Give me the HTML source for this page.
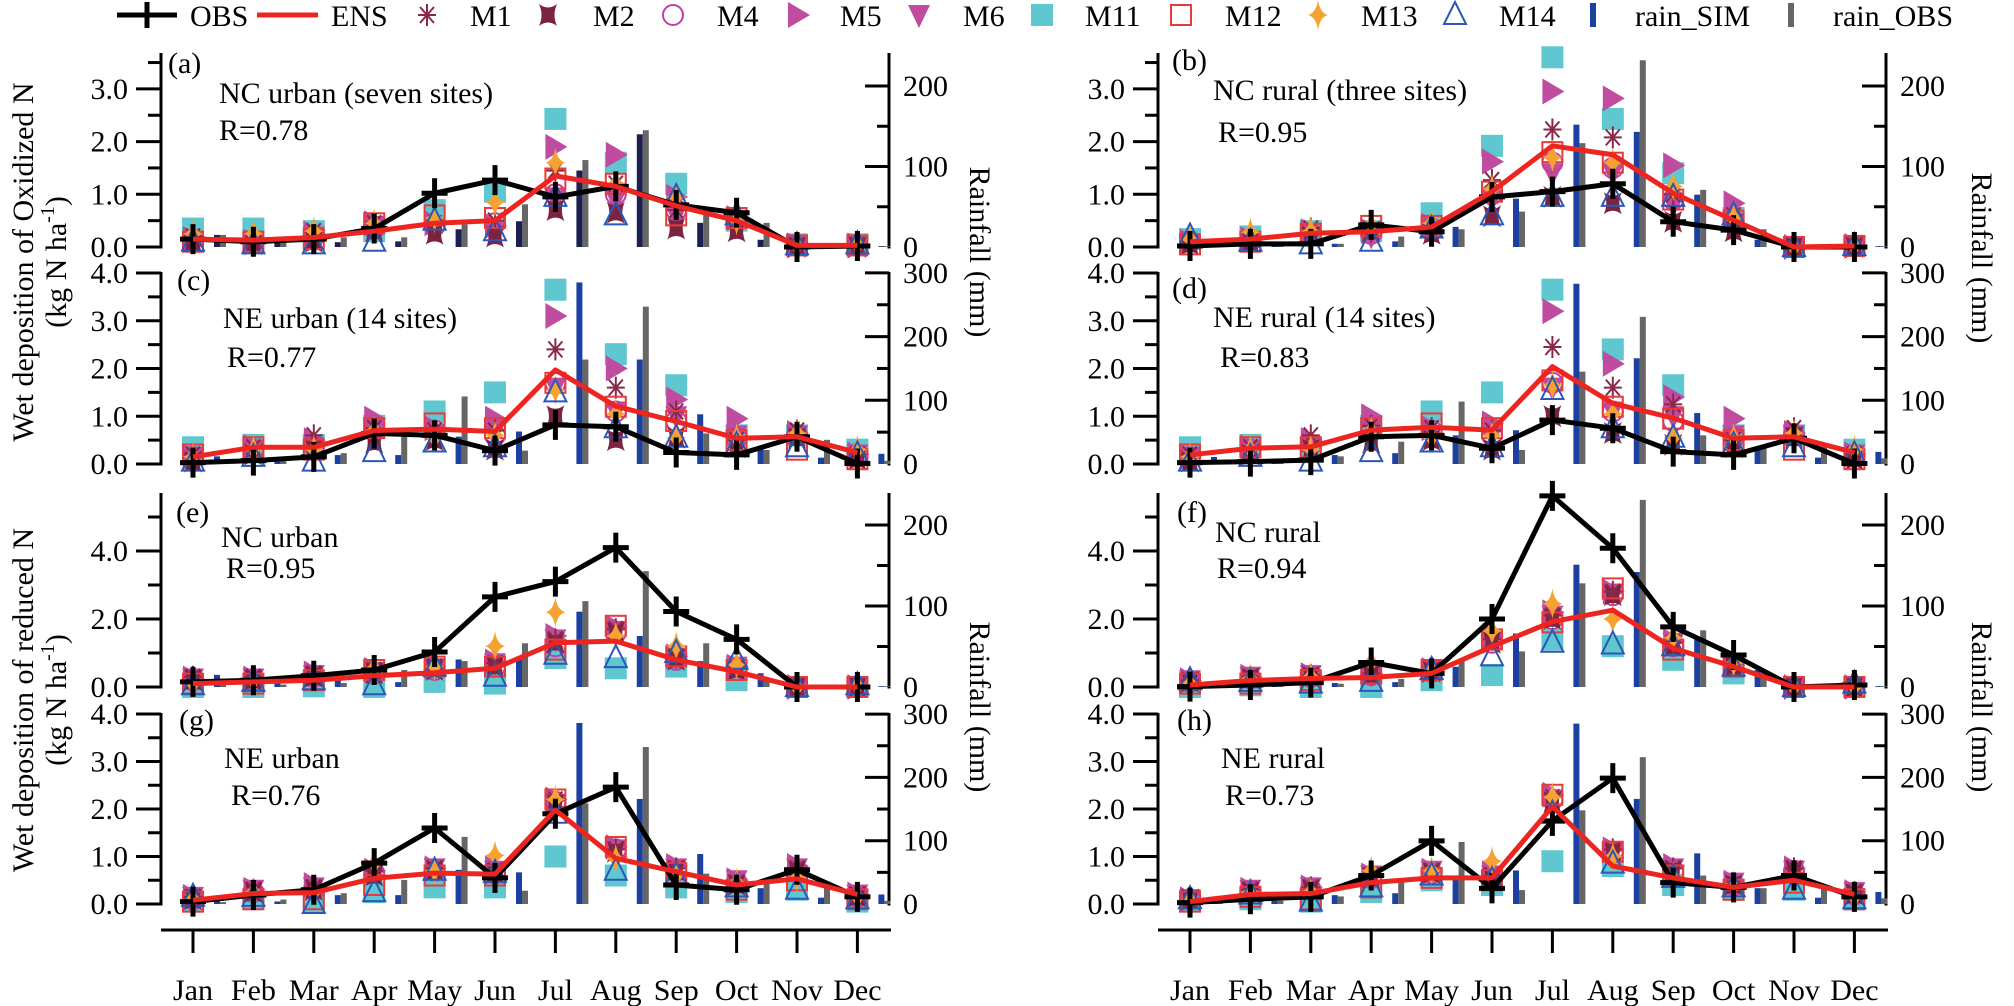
<!DOCTYPE html>
<html><head><meta charset="utf-8"><style>
html,body{margin:0;padding:0;background:#fff}
svg{display:block}
svg text{font-family:"Liberation Serif","DejaVu Serif","Times New Roman",Times,serif}
</style></head><body>
<svg id="chart" width="2014" height="1006" viewBox="0 0 2014 1006" xmlns="http://www.w3.org/2000/svg"></svg>
<script>
const months=['Jan','Feb','Mar','Apr','May','Jun','Jul','Aug','Sep','Oct','Nov','Dec'];
// ---- panel a: NC urban oxidized
const OBS_a=[.15,.1,.15,.35,1.02,1.27,.95,1.15,.8,.65,0,.02];
const ENS_a=[.15,.13,.18,.3,.45,.5,1.35,1.15,.78,.5,.03,.03];
const M1_a=[.2,.15,.3,.45,.45,.5,1.45,1.2,.7,.5,.03,.03];
const M2_a=[.1,.05,.1,.3,.25,.2,.7,.65,.35,.3,0,0];
const M4_a=[.15,.1,.2,.35,.4,.45,1.0,1.0,.7,.5,.03,.03];
const M5_a=[.15,.1,.25,.45,.45,.4,1.9,1.75,.95,.55,.03,.03];
const M6_a=[.1,.08,.2,.4,.35,.3,.9,.9,.6,.4,0,0];
const M11_a=[.35,.35,.3,.3,.7,1.05,2.43,1.6,1.2,.5,.05,.05];
const M12_a=[.1,.1,.15,.45,.6,.55,1.3,1.2,.6,.55,.03,.03];
const M13_a=[.25,.25,.3,.45,.55,.85,1.6,1.2,.95,.5,.03,.05];
const M14_a=[.1,.05,.05,.1,.5,.3,.95,.6,.95,.6,.03,.05];
const RS_a=[15,8,6,7,22,32,95,140,30,9,1,1];
const RO_a=[15,8,12,12,28,53,108,145,42,30,2,1];
// ---- panel b: NC rural oxidized
const OBS_b=[.02,.06,.06,.42,.29,.95,1.05,1.2,.48,.32,0,0];
const ENS_b=[.1,.15,.26,.29,.38,1.05,1.92,1.75,1.02,.51,0,.02];
const M1_b=[.1,.15,.35,.3,.3,1.27,2.23,2.08,1.0,.6,0,.02];
const M2_b=[.05,.1,.2,.3,.25,.58,.95,.83,.48,.3,0,0];
const M4_b=[.1,.12,.25,.25,.35,1.0,1.6,1.5,.9,.5,0,.02];
const M5_b=[.1,.15,.3,.3,.4,1.62,2.95,2.82,1.55,.83,0,.02];
const M6_b=[.05,.1,.2,.2,.3,.9,1.4,1.4,.8,.45,0,0];
const M11_b=[.15,.2,.3,.3,.64,1.92,3.6,2.43,1.4,.55,0,.02];
const M12_b=[.05,.1,.25,.4,.4,1.05,1.8,1.6,.9,.5,0,.02];
const M13_b=[.15,.28,.3,.42,.45,1.1,1.7,1.6,1.15,.55,0,.02];
const M14_b=[.2,.1,.05,.1,.35,.6,.95,.95,.95,.6,0,.02];
const RS_b=[0,2,4,7,25,60,152,143,65,9,1,1];
const RO_b=[0,2,4,13,22,44,129,232,71,22,1,1];
// ---- panel c: NE urban oxidized
const OBS_c=[.03,.07,.15,.64,.6,.28,.82,.78,.24,.19,.57,.01];
const ENS_c=[.15,.35,.35,.7,.73,.68,1.97,1.21,.89,.54,.57,.24];
const M1_c=[.2,.35,.6,.75,.7,.7,2.4,1.6,1.1,.5,.7,.2];
const M2_c=[.05,.2,.3,.45,.5,.3,1.0,.5,.55,.35,.55,.1];
const M4_c=[.15,.3,.4,.7,.7,.6,1.7,1.1,.9,.55,.6,.2];
const M5_c=[.15,.35,.5,.95,.75,.95,3.1,2.0,1.35,.95,.65,.2];
const M6_c=[.15,.3,.35,.75,.6,.7,1.6,1.1,1.0,.6,.6,.2];
const M11_c=[.35,.4,.4,.8,1.1,1.5,3.65,2.3,1.65,.6,.6,.3];
const M12_c=[.2,.35,.3,.75,.85,.75,1.7,1.2,.9,.5,.3,.1];
const M13_c=[.15,.3,.3,.7,.55,.6,1.55,1.05,.55,.55,.65,.3];
const M14_c=[.05,.15,.05,.25,.45,.35,1.5,.75,.55,.4,.35,.2];
const RS_c=[12,5,14,14,43,51,285,164,78,27,10,16];
const RO_c=[4,5,17,43,106,21,164,247,48,22,38,5];
// ---- panel d: NE rural oxidized
const OBS_d=[.03,.05,.08,.57,.6,.33,.92,.75,.26,.19,.54,.01];
const ENS_d=[.19,.33,.36,.71,.77,.71,2.04,1.27,.96,.54,.57,.24];
const M1_d=[.2,.35,.6,.8,.75,.7,2.45,1.6,1.25,.5,.75,.2];
const M2_d=[.05,.2,.3,.45,.5,.3,1.0,.65,.4,.35,.55,.1];
const M4_d=[.15,.3,.4,.7,.7,.6,1.7,1.1,.9,.55,.6,.2];
const M5_d=[.15,.35,.5,1.0,.75,.85,3.2,2.1,1.4,.95,.65,.2];
const M6_d=[.15,.3,.35,.75,.6,.6,1.6,1.1,1.0,.6,.6,.2];
const M11_d=[.35,.4,.35,.8,1.1,1.5,3.65,2.4,1.65,.6,.6,.3];
const M12_d=[.2,.35,.35,.75,.85,.75,1.75,1.2,.95,.5,.3,.1];
const M13_d=[.15,.3,.3,.7,.55,.6,1.65,1.05,.55,.55,.65,.3];
const M14_d=[.05,.15,.05,.25,.45,.35,1.55,.75,.55,.4,.35,.2];
const RS_d=[11,5,14,17,45,53,283,166,80,25,10,19];
const RO_d=[3,5,12,35,98,22,145,231,45,25,30,9];
// ---- panel e: NC urban reduced
const OBS_e=[.15,.2,.33,.5,1.03,2.65,3.1,4.1,2.22,1.4,0,0];
const ENS_e=[.1,.15,.2,.33,.42,.55,1.3,1.35,.8,.45,0,0];
const M1_e=[.3,.3,.4,.5,.6,.7,1.4,1.7,.9,.6,0,0];
const M2_e=[.2,.2,.3,.4,.5,.6,1.3,1.6,.8,.5,0,0];
const M4_e=[.2,.2,.3,.4,.5,.6,1.2,1.6,.8,.5,0,0];
const M5_e=[.25,.25,.4,.5,.6,.75,1.5,1.75,.9,.6,0,0];
const M6_e=[.25,.25,.35,.45,.55,.7,1.4,1.65,.85,.6,0,0];
const M11_e=[0,0,.02,0,.15,.1,.85,.55,.6,.2,0,0];
const M12_e=[.1,.1,.2,.5,.6,.6,1.1,1.8,.9,.5,0,0];
const M13_e=[.1,.2,.3,.55,.6,1.2,2.2,1.5,1.2,.65,0,.05];
const M14_e=[.05,.15,.2,.05,.6,.3,.95,.85,1.0,.8,0,.05];
const RS_e=[15,9,9,6,34,36,93,63,32,17,3,1];
const RO_e=[3,3,5,21,32,54,106,143,54,9,3,1];
// ---- panel f: NC rural reduced
const OBS_f=[.01,.06,.13,.72,.4,2.0,5.62,4.08,1.77,.94,0,.06];
const ENS_f=[.06,.19,.25,.28,.4,1.19,1.92,2.26,1.14,.6,0,0];
const M1_f=[.2,.3,.35,.4,.5,1.4,2.1,2.8,1.3,.7,0,0];
const M2_f=[.15,.25,.3,.35,.45,1.3,2.0,2.7,1.2,.6,0,0];
const M4_f=[.15,.25,.3,.35,.45,1.3,2.0,2.7,1.2,.6,0,0];
const M5_f=[.2,.3,.35,.4,.5,1.5,2.2,2.8,1.35,.7,0,0];
const M6_f=[.2,.3,.35,.35,.5,1.4,2.1,2.75,1.3,.65,0,0];
const M11_f=[0,.05,0,0,.2,.35,1.4,1.2,.8,.4,0,0];
const M12_f=[.1,.1,.2,.4,.5,1.4,1.9,2.9,1.1,.6,0,0];
const M13_f=[.1,.25,.3,.72,.5,1.65,2.45,2.0,1.45,.7,0,0];
const M14_f=[.2,.15,.1,.15,.5,.9,1.3,1.25,1.2,.6,0,.1];
const RS_f=[1,3,5,6,25,66,151,142,62,21,2,1];
const RO_f=[1,3,4,10,33,44,128,231,70,21,2,1];
// ---- panel g: NE urban reduced
const OBS_g=[.05,.19,.3,.86,1.6,.55,1.9,2.46,.4,.3,.72,.15];
const ENS_g=[.08,.22,.24,.54,.65,.63,1.98,.96,.68,.4,.53,.2];
const M1_g=[.15,.3,.35,.7,.75,.7,2.2,1.15,.75,.45,.75,.2];
const M2_g=[.1,.25,.3,.6,.7,.65,2.1,1.1,.7,.4,.7,.15];
const M4_g=[.1,.25,.3,.65,.7,.65,2.15,1.15,.7,.45,.7,.15];
const M5_g=[.15,.3,.4,.7,.75,.75,2.2,1.2,.8,.5,.8,.2];
const M6_g=[.15,.3,.35,.7,.75,.7,2.1,1.15,.75,.5,.75,.2];
const M11_g=[.05,.1,.05,.25,.35,.35,1.0,.6,.35,.25,.3,.05];
const M12_g=[.05,.1,.1,.4,.6,.6,2.2,1.2,.65,.3,.5,.1];
const M13_g=[.1,.25,.25,.85,.7,1.02,2.2,.95,.6,.45,.55,.15];
const M14_g=[.15,.15,0,.25,.7,.65,1.9,.7,.6,.35,.3,.1];
const RS_g=[5,4,14,14,54,50,286,166,79,25,10,15];
const RO_g=[3,7,17,38,106,21,159,248,48,35,35,5];
// ---- panel h: NE rural reduced
const OBS_h=[.03,.1,.15,.6,1.33,.33,1.75,2.65,.45,.35,.6,.15];
const ENS_h=[.05,.2,.22,.45,.55,.55,2.05,.8,.55,.35,.5,.2];
const M1_h=[.1,.3,.35,.6,.7,.6,2.25,1.15,.75,.4,.75,.25];
const M2_h=[.1,.25,.3,.55,.65,.55,2.15,1.1,.7,.4,.7,.2];
const M4_h=[.1,.25,.3,.55,.65,.6,2.2,1.1,.7,.4,.7,.2];
const M5_h=[.1,.3,.35,.6,.7,.65,2.3,1.15,.8,.45,.75,.25];
const M6_h=[.1,.3,.35,.6,.7,.6,2.2,1.1,.75,.45,.7,.25];
const M11_h=[.05,.1,.05,.25,.5,.4,.9,.8,.4,.3,.3,.1];
const M12_h=[.05,.15,.1,.35,.55,.5,2.3,1.1,.6,.3,.45,.1];
const M13_h=[.1,.25,.25,.7,.7,.9,2.25,1.0,.6,.4,.55,.15];
const M14_h=[.1,.2,.05,.35,.6,.5,1.9,.85,.55,.35,.3,.1];
const RS_h=[11,5,14,17,45,53,285,166,80,25,10,19];
const RO_h=[3,5,12,35,98,22,148,232,45,25,30,9];

const panelText={a:['NC urban (seven sites)','R=0.78'],b:['NC rural (three sites)','R=0.95'],c:['NE urban (14 sites)','R=0.77'],d:['NE rural (14 sites)','R=0.83'],e:['NC urban','R=0.95'],f:['NC rural','R=0.94'],g:['NE urban','R=0.76'],h:['NE rural','R=0.73']};
const leftTicksA=[0,1,2,3], leftTicksC=[0,1,2,3,4], leftTicksE=[0,2,4];
const rainTicksA=[0,100,200], rainTicksC=[0,100,200,300];

const NS='http://www.w3.org/2000/svg';
const FONT='"Liberation Serif", "DejaVu Serif", "Times New Roman", Times, serif';
const svg=document.getElementById('chart');
function el(tag,attrs,parent){const e=document.createElementNS(NS,tag);for(const k in attrs)e.setAttribute(k,attrs[k]);(parent||svg).appendChild(e);return e;}
function txt(s,attrs,parent){const t=el('text',attrs,parent);t.style.fontFamily=FONT;t.textContent=s;return t;}

const COL={m1:'#8a2848',m2:'#7a2440',m4:'#c040a0',m5:'#c04ca0',m6:'#c04ca0',m11:'#5fc7cf',m12:'#e83a3a',m13:'#f5a233',m14:'#2a58b8'};
function marker(kind,x,y,g){
  let m;
  if(kind==='m1'){m=el('path',{d:`M${x-9},${y}H${x+9}M${x},${y-11}V${y+11}M${x-7},${y-8}L${x+7},${y+8}M${x-7},${y+8}L${x+7},${y-8}`,stroke:COL.m1,'stroke-width':2,fill:'none'},g);}
  else if(kind==='m2'){m=el('path',{d:`M${x-9},${y-11}Q${x},${y-4} ${x+9},${y-11}Q${x+4},${y} ${x+9},${y+11}Q${x},${y+4} ${x-9},${y+11}Q${x-4},${y} ${x-9},${y-11}Z`,fill:COL.m2},g);}
  else if(kind==='m4'){m=el('circle',{cx:x,cy:y,r:10,fill:'none',stroke:COL.m4,'stroke-width':2},g);}
  else if(kind==='m5'){m=el('path',{d:`M${x-10},${y-13}L${x+12},${y}L${x-10},${y+13}Z`,fill:COL.m5},g);}
  else if(kind==='m6'){m=el('path',{d:`M${x-11},${y-10}L${x+11},${y-10}L${x},${y+13}Z`,fill:COL.m6},g);}
  else if(kind==='m11'){m=el('rect',{x:x-11,y:y-11,width:22,height:22,fill:COL.m11},g);}
  else if(kind==='m12'){m=el('rect',{x:x-10,y:y-10,width:20,height:20,fill:'none',stroke:COL.m12,'stroke-width':2},g);}
  else if(kind==='m13'){m=el('path',{d:`M${x},${y-15}Q${x+2},${y-2} ${x+10},${y}Q${x+2},${y+2} ${x},${y+15}Q${x-2},${y+2} ${x-10},${y}Q${x-2},${y-2} ${x},${y-15}Z`,fill:COL.m13},g);}
  else if(kind==='m14'){m=el('path',{d:`M${x},${y-13}L${x+11},${y+9}L${x-11},${y+9}Z`,fill:'none',stroke:COL.m14,'stroke-width':2},g);}
  return m;
}

const COLS=[{L:161,R:889,jan:193},{L:1158,R:1886,jan:1190}];
const ROWS=[{y0:247,top:53,unit:52.7,rpx:0.805,lt:leftTicksA,minor:0.5,rt:rainTicksA,lmax:3.68},
            {y0:464,top:272,unit:47.75,rpx:0.637,lt:leftTicksC,minor:0.5,rt:rainTicksC,lmax:4.02},
            {y0:687,top:493,unit:34,rpx:0.81,lt:leftTicksE,minor:1,rt:rainTicksA,lmax:5.7},
            {y0:904,top:713,unit:47.5,rpx:0.633,lt:leftTicksC,minor:0.5,rt:rainTicksC,lmax:4.02}];
const STEP=60.4;
const PANELS=[
 {id:'a',c:0,r:0,obs:OBS_a,ens:ENS_a,m:{m1:M1_a,m2:M2_a,m4:M4_a,m5:M5_a,m6:M6_a,m11:M11_a,m12:M12_a,m13:M13_a,m14:M14_a},rs:RS_a,ro:RO_a,simCol:'#1c2050'},
 {id:'b',c:1,r:0,obs:OBS_b,ens:ENS_b,m:{m1:M1_b,m2:M2_b,m4:M4_b,m5:M5_b,m6:M6_b,m11:M11_b,m12:M12_b,m13:M13_b,m14:M14_b},rs:RS_b,ro:RO_b,simCol:'#1c40a0'},
 {id:'c',c:0,r:1,obs:OBS_c,ens:ENS_c,m:{m1:M1_c,m2:M2_c,m4:M4_c,m5:M5_c,m6:M6_c,m11:M11_c,m12:M12_c,m13:M13_c,m14:M14_c},rs:RS_c,ro:RO_c,simCol:'#1c40a0'},
 {id:'d',c:1,r:1,obs:OBS_d,ens:ENS_d,m:{m1:M1_d,m2:M2_d,m4:M4_d,m5:M5_d,m6:M6_d,m11:M11_d,m12:M12_d,m13:M13_d,m14:M14_d},rs:RS_d,ro:RO_d,simCol:'#1c40a0'},
 {id:'e',c:0,r:2,obs:OBS_e,ens:ENS_e,m:{m1:M1_e,m2:M2_e,m4:M4_e,m5:M5_e,m6:M6_e,m11:M11_e,m12:M12_e,m13:M13_e,m14:M14_e},rs:RS_e,ro:RO_e,simCol:'#1c40a0'},
 {id:'f',c:1,r:2,obs:OBS_f,ens:ENS_f,m:{m1:M1_f,m2:M2_f,m4:M4_f,m5:M5_f,m6:M6_f,m11:M11_f,m12:M12_f,m13:M13_f,m14:M14_f},rs:RS_f,ro:RO_f,simCol:'#1c40a0'},
 {id:'g',c:0,r:3,obs:OBS_g,ens:ENS_g,m:{m1:M1_g,m2:M2_g,m4:M4_g,m5:M5_g,m6:M6_g,m11:M11_g,m12:M12_g,m13:M13_g,m14:M14_g},rs:RS_g,ro:RO_g,simCol:'#1c40a0'},
 {id:'h',c:1,r:3,obs:OBS_h,ens:ENS_h,m:{m1:M1_h,m2:M2_h,m4:M4_h,m5:M5_h,m6:M6_h,m11:M11_h,m12:M12_h,m13:M13_h,m14:M14_h},rs:RS_h,ro:RO_h,simCol:'#1c40a0'}];
const TXTPOS={a:[168,63,219,93,219,130],b:[1172,60,1213,90,1218,132],c:[177,280,223,318,227,357],d:[1172,288,1213,317,1220,357],
 e:[176,512,221,537,226,568],f:[1177,512,1215,532,1217,568],g:[179,720,224,758,231,795],h:[1177,720,1221,758,1225,795]};

PANELS.forEach(p=>{
  const C=COLS[p.c],Rw=ROWS[p.r];
  const g=el('g',{});
  
  
  const xm=i=>C.jan+i*STEP;
  const yv=v=>Rw.y0-v*Rw.unit;
  const yr=v=>Rw.y0-v*Rw.rpx;
  const la=el('line',{x1:C.L,y1:Rw.y0+1.5,x2:C.L,y2:Rw.top,stroke:'#000','stroke-width':3},g);
  
  const ra=el('line',{x1:C.R,y1:Rw.y0+1.5,x2:C.R,y2:Rw.top,stroke:'#000','stroke-width':3},g);
  
  for(let v=0;v<=Rw.lmax+1e-6;v+=Rw.minor){
    const major=Rw.lt.some(t=>Math.abs(t-v)<1e-6);
    el('line',{x1:C.L-(major?25:13),x2:C.L,y1:yv(v),y2:yv(v),stroke:'#000','stroke-width':3},g);
  }
  Rw.lt.forEach(t=>{const tl=txt(t.toFixed(1),{x:C.L-33,y:yv(t)+10,'font-size':30,'text-anchor':'end'},g);
    });
  const rmax=(Rw.y0-Rw.top)/Rw.rpx;
  for(let v=50;v<=rmax;v+=50){const major=v%100===0;
    el('line',{x1:C.R-(major?24:12),x2:C.R,y1:yr(v),y2:yr(v),stroke:'#000','stroke-width':3},g);}
  Rw.rt.forEach(t=>{const tl=txt(String(t),{x:C.R+14,y:yr(t)+10,'font-size':30},g);
    });
  p.rs.forEach((v,i)=>{const b=el('rect',{x:xm(i)+21,y:yr(v),width:6,height:v*Rw.rpx,fill:p.simCol},g);
    });
  p.ro.forEach((v,i)=>{const b=el('rect',{x:xm(i)+27,y:yr(v),width:6,height:v*Rw.rpx,fill:'#666'},g);
    });
  ['m11','m6','m5','m4','m2','m1','m12','m13','m14'].forEach(k=>{
    p.m[k].forEach((v,i)=>{const mk=marker(k,xm(i),yv(v),g);
      });
  });
  const op=el('polyline',{points:p.obs.map((v,i)=>xm(i)+','+yv(v)).join(' '),fill:'none',stroke:'#000','stroke-width':5,'stroke-linejoin':'round'},g);
  
  p.obs.forEach((v,i)=>{const x=xm(i),y=yv(v);
    const c=el('path',{d:`M${x-13},${y}H${x+13}M${x},${y-15}V${y+15}`,stroke:'#000','stroke-width':5},g);
    });
  const ep=el('polyline',{points:p.ens.map((v,i)=>xm(i)+','+yv(v)).join(' '),fill:'none',stroke:'#ec2520','stroke-width':5,'stroke-linejoin':'round'},g);
  
  const tp=TXTPOS[p.id];
  const t1=txt('('+p.id+')',{x:tp[0],y:tp[1]+10,'font-size':30},g);
  
  const t2=txt(panelText[p.id][0],{x:tp[2],y:tp[3]+10,'font-size':30},g);
  
  const t3=txt(panelText[p.id][1],{x:tp[4],y:tp[5]+10,'font-size':30},g);
  
});
COLS.forEach((C,ci)=>{
  const xa=el('line',{x1:C.L,x2:C.R+2,y1:930,y2:930,stroke:'#000','stroke-width':3});
  
  months.forEach((m,i)=>{const x=C.jan+i*STEP;
    el('line',{x1:x,x2:x,y1:931,y2:953,stroke:'#000','stroke-width':3});
    const t=txt(m,{x:x,y:1000,'font-size':30,'text-anchor':'middle'});
    });
});
function rot(s,x,y,ang,name){const t=txt(s,{x:x,y:y,'font-size':30,'text-anchor':'middle',transform:`rotate(${ang} ${x} ${y})`});
  return t;}
rot('Wet deposition of Oxidized N',33,262,-90,'y-axis-title-oxidized');
const k1=txt('',{x:66,y:262,'font-size':30,'text-anchor':'middle',transform:'rotate(-90 66 262)'});

k1.innerHTML='(kg N ha<tspan dy="-12" font-size="20">-1</tspan><tspan dy="12">)</tspan>';
rot('Wet deposition of reduced N',33,700,-90,'y-axis-title-reduced');
const k2=txt('',{x:66,y:700,'font-size':30,'text-anchor':'middle',transform:'rotate(-90 66 700)'});

k2.innerHTML='(kg N ha<tspan dy="-12" font-size="20">-1</tspan><tspan dy="12">)</tspan>';
rot('Rainfall (mm)',970,252,90,'rain-axis-title');
rot('Rainfall (mm)',970,707,90,'rain-axis-title');
rot('Rainfall (mm)',1972,258,90,'rain-axis-title');
rot('Rainfall (mm)',1972,707,90,'rain-axis-title');
const lg=el('g',{});

const LY=15;
el('line',{x1:117,x2:177,y1:LY,y2:LY,stroke:'#000','stroke-width':5},lg);
el('line',{x1:147,x2:147,y1:LY-13,y2:LY+13,stroke:'#000','stroke-width':5},lg);
el('line',{x1:257,x2:318,y1:LY,y2:LY,stroke:'#ec2520','stroke-width':5},lg);
const LEG=[['OBS',190],['ENS',331],['M1',470],['M2',593],['M4',717],['M5',840],['M6',963],['M11',1085],['M12',1225],['M13',1361],['M14',1499],['rain_SIM',1635],['rain_OBS',1833]];
LEG.forEach(([s,x])=>{const t=txt(s,{x:x,y:LY+11,'font-size':30},lg);
  });
[['m1',427],['m2',548],['m4',673],['m5',798],['m6',919],['m11',1042],['m12',1181],['m13',1318],['m14',1455]].forEach(([k,x])=>marker(k,x,LY,lg));
el('rect',{x:1590,y:LY-12,width:6,height:24,fill:'#1c40a0'},lg);
el('rect',{x:1788,y:LY-12,width:6,height:24,fill:'#666'},lg);
</script>
</body></html>
